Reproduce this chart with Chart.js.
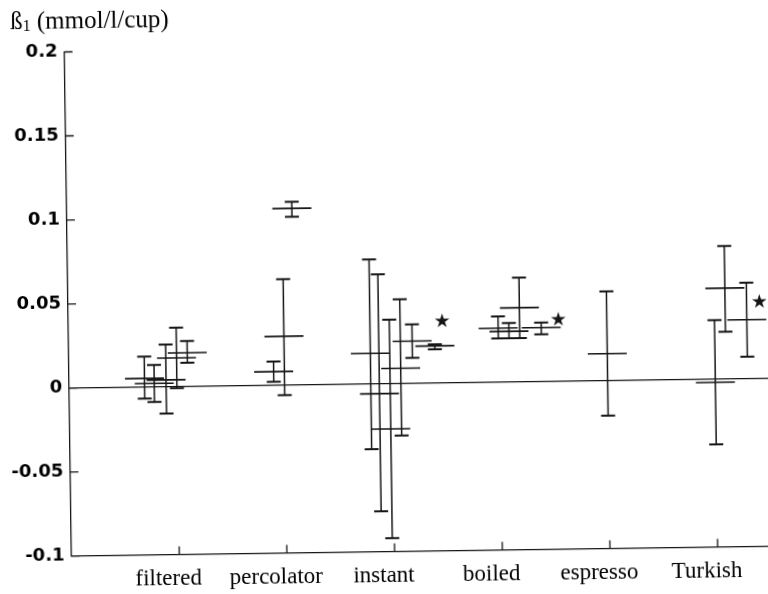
<!DOCTYPE html>
<html>
<head>
<meta charset="utf-8">
<script src="https://cdn.jsdelivr.net/npm/chart.js@4.4.0/dist/chart.umd.min.js"></script>
<style>
html, body { margin: 0; padding: 0; background: #fff; overflow: hidden; }
/* the original is a slightly tilted scan */
#cvs { display: block; transform: rotate(-0.8deg); }
</style>
</head>
<body>
<canvas id="cvs" width="768" height="594"></canvas>
<script>
var categories = ["filtered", "percolator", "instant", "boiled", "espresso", "Turkish"];

// one entry per study: place on the x axis, estimate, lower and upper limit
var barX    = [0.70, 0.79, 0.90, 1.00, 1.10,   1.90, 2.00, 2.09,   2.80, 2.88, 2.98, 3.08, 3.19, 3.40,   3.99, 4.09, 4.19, 4.39,   5.00,   6.00, 6.10, 6.30];
var barMean = [0.005, 0.002, 0.004, 0.017, 0.020,   0.008, 0.029, 0.105,   0.018, -0.006, -0.027, 0.009, 0.025, 0.022,   0.032, 0.030, 0.044, 0.032,   0.016,   -0.002, 0.054, 0.035];
var barLow  = [-0.007, -0.009, -0.016, -0.001, 0.014,   0.002, -0.006, 0.100,   -0.039, -0.076, -0.092, -0.031, 0.015, 0.020,   0.026, 0.026, 0.026, 0.028,   -0.021,   -0.039, 0.028, 0.013];
var barHigh = [0.018, 0.013, 0.025, 0.035, 0.027,   0.014, 0.063, 0.109,   0.074, 0.065, 0.038, 0.050, 0.035, 0.023,   0.039, 0.035, 0.062, 0.035,   0.053,   0.035, 0.079, 0.057];

// significance marks
var starX = [3.47, 4.55, 6.42];
var starY = [0.036, 0.036, 0.045];

var yTicks = [-0.1, -0.05, 0, 0.05, 0.1, 0.15, 0.2];
var ink = "#151515";

var extras = {
	id: "extras",
	afterDatasetsDraw: function (chart) {
		var ctx = chart.ctx;
		var xs = chart.scales.x, ys = chart.scales.y;
		var area = chart.chartArea;
		ctx.save();
		ctx.strokeStyle = ink;
		// whiskers and caps
		for (var i = 0; i < barX.length; i++) {
			var px = xs.getPixelForValue(barX[i]);
			var lo = ys.getPixelForValue(barLow[i]);
			var hi = ys.getPixelForValue(barHigh[i]);
			ctx.lineWidth = 1.5;
			ctx.beginPath();
			ctx.moveTo(px, lo);
			ctx.lineTo(px, hi);
			ctx.stroke();
			ctx.lineWidth = 2;
			ctx.beginPath();
			ctx.moveTo(px - 7, lo); ctx.lineTo(px + 7, lo);
			ctx.moveTo(px - 7, hi); ctx.lineTo(px + 7, hi);
			ctx.stroke();
		}
		// inward tick marks
		ctx.lineWidth = 1.3;
		ctx.beginPath();
		for (var t of yTicks) {
			var py = ys.getPixelForValue(t);
			ctx.moveTo(area.left, py);
			ctx.lineTo(area.left + 8, py);
		}
		for (var c = 0; c < categories.length; c++) {
			var tx = xs.getPixelForValue(c + 1);
			ctx.moveTo(tx, area.bottom);
			ctx.lineTo(tx, area.bottom - 8);
		}
		ctx.stroke();
		// stars
		ctx.fillStyle = ink;
		ctx.font = "19px 'DejaVu Sans'";
		ctx.textAlign = "center";
		ctx.textBaseline = "middle";
		for (var s = 0; s < starX.length; s++) {
			ctx.fillText("\u2605", xs.getPixelForValue(starX[s]), ys.getPixelForValue(starY[s]));
		}
		// axis title
		ctx.textAlign = "left";
		ctx.fillStyle = "#000";
		ctx.font = "25px 'Liberation Serif'";
		var x0 = 14, y0 = 17;
		ctx.fillText("\u00df", x0, y0);
		x0 += ctx.measureText("\u00df").width;
		ctx.font = "16px 'Liberation Serif'";
		ctx.fillText("1", x0, y0 + 5);
		x0 += ctx.measureText("1").width;
		ctx.font = "25px 'Liberation Serif'";
		ctx.fillText(" (mmol/l/cup)", x0, y0);
		ctx.restore();
	}
};

var config = {
	type: "scatter",
	data: {
		datasets: [{
			type: "line",
			label: "zero",
			data: [{ x: 0, y: 0 }, { x: 6.5, y: 0 }],
			borderColor: ink,
			borderWidth: 1.3,
			pointRadius: 0
		}, {
			type: "scatter",
			label: "estimate",
			data: barX.map(function (x, i) { return { x: x, y: barMean[i] }; }),
			pointStyle: "line",
			pointRadius: 19.5,
			pointHoverRadius: 19.5,
			pointBorderWidth: 1.6,
			pointBorderColor: ink,
			pointBackgroundColor: ink
		}]
	},
	options: {
		responsive: false,
		animation: false,
		events: [],
		layout: { autoPadding: false, padding: { top: 47.5, left: 0, right: 0, bottom: 0 } },
		plugins: { legend: { display: false }, tooltip: { enabled: false } },
		scales: {
			x: {
				type: "linear",
				min: 0,
				max: 6.5,
				afterFit: function (s) {
					s.height = 42.4;
					s.paddingLeft = 0;
					s.paddingRight = 0;
				},
				afterBuildTicks: function (s) {
					s.ticks = categories.map(function (c, i) { return { value: i + 1 }; });
				},
				grid: { display: false, drawTicks: false },
				border: { display: true, color: ink, width: 1.3 },
				ticks: {
					color: "#000",
					padding: 11,
					labelOffset: -11,
					maxRotation: 0,
					autoSkip: false,
					font: { family: "'Liberation Serif', serif", size: 23 },
					callback: function (v) { return categories[v - 1]; }
				}
			},
			y: {
				type: "linear",
				min: -0.1,
				max: 0.2,
				afterFit: function (s) { s.width = 68; },
				afterBuildTicks: function (s) {
					s.ticks = yTicks.map(function (v) { return { value: v }; });
				},
				grid: { display: false, drawTicks: false },
				border: { display: true, color: ink, width: 1.3 },
				ticks: {
					color: "#000",
					padding: 7,
					font: { family: "'DejaVu Sans', sans-serif", size: 18, weight: "bold" },
					callback: function (v) { return String(Math.round(v * 100) / 100); }
				}
			}
		}
	},
	plugins: [extras]
};

var chart = new Chart("cvs", config);
</script>
</body>
</html>
